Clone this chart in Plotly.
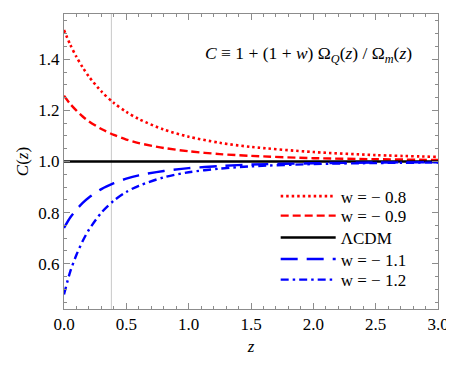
import plotly.graph_objects as go

# redshift grid
z = [0.0, 0.05, 0.1, 0.15, 0.2, 0.3, 0.4, 0.5, 0.6, 0.8, 1.0, 1.25, 1.5, 2.0, 2.5, 3.0]

c_w08 = [1.514, 1.457, 1.409, 1.368, 1.332, 1.274, 1.229, 1.194, 1.166, 1.125, 1.097, 1.073, 1.057, 1.037, 1.025, 1.018]
c_w09 = [1.257, 1.225, 1.199, 1.176, 1.157, 1.127, 1.104, 1.086, 1.072, 1.053, 1.040, 1.029, 1.022, 1.013, 1.009, 1.006]
c_lcdm = [1.0] * 16
c_w11 = [0.740, 0.781, 0.812, 0.838, 0.859, 0.892, 0.915, 0.933, 0.946, 0.963, 0.974, 0.982, 0.988, 0.993, 0.996, 0.997]
c_w12 = [0.480, 0.569, 0.635, 0.689, 0.733, 0.800, 0.847, 0.881, 0.905, 0.938, 0.958, 0.972, 0.981, 0.990, 0.994, 0.996]

names = ["w = \u2212 0.8", "w = \u2212 0.9", "\u039bCDM", "w = \u2212 1.1", "w = \u2212 1.2"]
z_mark = 0.38

FONT = "Liberation Serif"

styles = [
    dict(color="#ff0000", width=2.6, dash="2.5px,3px"),
    dict(color="#ff0000", width=2.4, dash="8px,4px"),
    dict(color="#000000", width=2.4, dash="solid"),
    dict(color="#0000ff", width=2.4, dash="17px,9px"),
    dict(color="#0000ff", width=2.4, dash="8px,4px,2.5px,4px"),
]
# one small legend per entry so the rows can sit as tight as in the original
legend_rows = [0.381, 0.315, 0.241, 0.168, 0.098]

fig = go.Figure()
legend_layout = {}
for i, (ys, nm, st) in enumerate(zip([c_w08, c_w09, c_lcdm, c_w11, c_w12], names, styles)):
    key = "legend" if i == 0 else f"legend{i + 1}"
    fig.add_trace(go.Scatter(x=z, y=ys, mode="lines", name=nm, legend=key,
                             line=dict(shape="spline", smoothing=0.8, **st)))
    legend_layout[key] = dict(x=0.566, y=legend_rows[i], xanchor="left", yanchor="middle",
                              bgcolor="rgba(0,0,0,0)", font=dict(family=FONT, size=17),
                              itemwidth=55)

fig.add_vline(x=z_mark, line=dict(color="#c8c8c8", width=1), layer="below")

axis_common = dict(
    showline=True, linecolor="#8c8c8c", linewidth=1, mirror="allticks",
    ticks="inside", ticklen=6, tickcolor="#8c8c8c", tickwidth=1,
    showgrid=False, zeroline=False, ticklabeloverflow="allow",
    tickfont=dict(family=FONT, size=17, color="black"),
)

# page body has an 8px margin, so keep the figure inside the window
fig.update_layout(
    width=446, height=349,
    margin=dict(l=56, r=14, t=5, b=44),
    paper_bgcolor="white", plot_bgcolor="white",
    font=dict(family=FONT, size=17, color="black"),
    xaxis=dict(range=[0, 3.0], dtick=0.5, tickformat=".1f",
               minor=dict(dtick=0.1, ticks="inside", ticklen=3, tickcolor="#8c8c8c"),
               title=dict(text="<i>z</i>", font=dict(family=FONT, size=17), standoff=6),
               **axis_common),
    yaxis=dict(range=[0.423, 1.577], dtick=0.2, tickformat=".1f",
               minor=dict(dtick=0.05, ticks="inside", ticklen=3, tickcolor="#8c8c8c"),
               title=dict(text="<i>C</i>(<i>z</i>)", font=dict(family=FONT, size=17), standoff=5),
               **axis_common),
    showlegend=True,
    **legend_layout,
)

fig.add_annotation(
    text="<i>C</i> \u2261 1 + (1 + <i>w</i>) \u03a9<sub><i>Q</i></sub>(<i>z</i>) / \u03a9<sub><i>m</i></sub>(<i>z</i>)",
    xref="paper", yref="paper", x=0.653, y=0.862, xanchor="center", yanchor="middle",
    showarrow=False, font=dict(family=FONT, size=17.5, color="black"),
)

fig.write_html("out.html")
